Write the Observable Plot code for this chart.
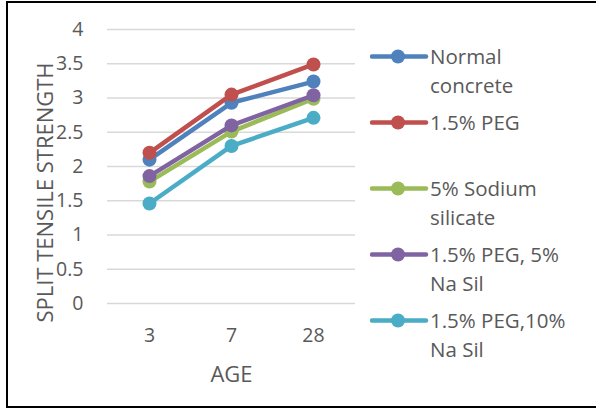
<!DOCTYPE html>
<html>
<head>
<meta charset="utf-8">
<script src="https://cdn.jsdelivr.net/npm/d3@7"></script>
<script src="https://cdn.jsdelivr.net/npm/@observablehq/plot@0.6"></script>
<style>
  html, body { margin: 0; padding: 0; background: #fff; }
  body { width: 596px; height: 412px; position: relative; overflow: hidden; font-family: "Open Sans", sans-serif; }
  #frame { position: absolute; left: 6px; top: 1px; width: 620px; height: 407px; border: 2px solid #000; box-sizing: border-box; }
  #chart { position: absolute; left: 0; top: 0; }
  #legend { position: absolute; left: 370px; top: 42px; color: #595959; font-size: 20.5px; }
  .entry { position: relative; height: 66px; }
  .entry svg { position: absolute; left: 0; top: 0; }
  .entry .lab { position: absolute; left: 60px; top: 0; width: 152px; line-height: 28.5px; }
</style>
</head>
<body>
<div id="frame"></div>
<div id="chart"></div>
<div id="legend"></div>
<script>
const ages = ["3", "7", "28"];
const seriesNames = ["Normal concrete", "1.5% PEG", "5% Sodium silicate", "1.5% PEG, 5% Na Sil", "1.5% PEG,10% Na Sil"];
const normalConcrete = [2.1, 2.93, 3.24];
const peg15 = [2.2, 3.05, 3.49];
const sodiumSilicate5 = [1.78, 2.51, 2.99];
const pegNaSil5 = [1.86, 2.6, 3.04];
const pegNaSil10 = [1.46, 2.3, 2.71];
const yTicks = [0, 0.5, 1, 1.5, 2, 2.5, 3, 3.5, 4];
const yTitle = "SPLIT TENSILE STRENGTH";
const xTitle = "AGE";
const colors = ["#4F81BD", "#C0504D", "#9BBB59", "#8064A2", "#4BACC6"];

const allValues = [normalConcrete, peg15, sodiumSilicate5, pegNaSil5, pegNaSil10];
const rows = [];
seriesNames.forEach((s, i) => ages.forEach((a, j) => rows.push({series: s, age: a, value: allValues[i][j], idx: i})));

const marks = [
  Plot.ruleY(yTicks, {stroke: "#D9D9D9", strokeWidth: 1.4}),
  Plot.axisY({ticks: yTicks, tickSize: 0, tickPadding: 24, fontSize: 19.5, color: "#595959", label: null, tickFormat: d => String(d)}),
  Plot.axisX({tickSize: 0, tickPadding: 25, fontSize: 19.5, color: "#595959", label: null}),
  Plot.text([yTitle], {frameAnchor: "left", dx: -62, dy: 26, rotate: -90, textAnchor: "middle", lineAnchor: "middle", fontSize: 22, fill: "#595959", text: d => d}),
  Plot.text([xTitle], {frameAnchor: "bottom", dy: 71, lineAnchor: "middle", fontSize: 22, fill: "#595959", text: d => d})
];
seriesNames.forEach((s, i) => {
  const data = rows.filter(r => r.idx === i);
  marks.push(Plot.line(data, {x: "age", y: "value", stroke: colors[i], strokeWidth: 4.5, strokeLinejoin: "round", strokeLinecap: "round"}));
  marks.push(Plot.dot(data, {x: "age", y: "value", fill: colors[i], r: 7, stroke: "none"}));
});

const chart = Plot.plot({
  width: 596,
  height: 412,
  marginLeft: 107,
  marginRight: 241,
  marginTop: 29,
  marginBottom: 109,
  style: {fontFamily: "Open Sans, sans-serif", background: "transparent", overflow: "visible"},
  x: {type: "point", domain: ages, padding: 0.5},
  y: {domain: [0, 4]},
  marks
});
document.getElementById("chart").appendChild(chart);

const legend = document.getElementById("legend");
seriesNames.forEach((s, i) => {
  const e = document.createElement("div");
  e.className = "entry";
  e.innerHTML = `<svg width="60" height="30"><line x1="2" x2="56" y1="14.5" y2="14.5" stroke="${colors[i]}" stroke-width="4.5" stroke-linecap="round"/><circle cx="28" cy="14.5" r="7" fill="${colors[i]}"/></svg><div class="lab"></div>`;
  e.querySelector(".lab").textContent = s;
  legend.appendChild(e);
});
</script>
</body>
</html>
